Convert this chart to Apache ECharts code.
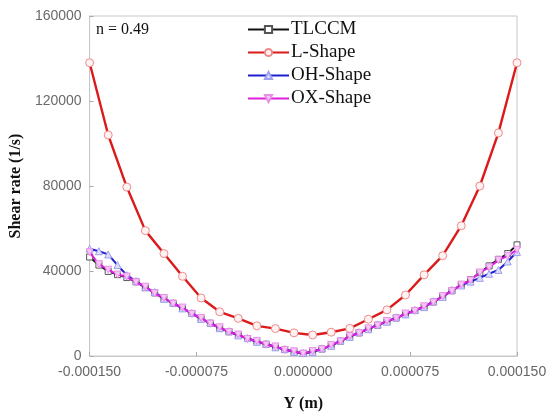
<!DOCTYPE html>
<html>
<head>
<meta charset="utf-8">
<script src="https://cdn.jsdelivr.net/npm/echarts@6/dist/echarts.min.js"></script>
<style>
  html, body { margin: 0; padding: 0; background: #fff; }
  #chart { width: 551px; height: 419px; }
</style>
</head>
<body>
<div id="chart"></div>
<script>
// Radial positions (m) for the coarse L-Shape profile
const yCoarse = [
  -150e-6, -136.957e-6, -123.913e-6, -110.870e-6, -97.826e-6, -84.783e-6,
  -71.739e-6, -58.696e-6, -45.652e-6, -32.609e-6, -19.565e-6, -6.522e-6,
  6.522e-6, 19.565e-6, 32.609e-6, 45.652e-6, 58.696e-6, 71.739e-6,
  84.783e-6, 97.826e-6, 110.870e-6, 123.913e-6, 136.957e-6, 150e-6
];

// Radial positions (m) for the fine profiles
const yFine = [
  -150e-6, -143.478e-6, -136.957e-6, -130.435e-6, -123.913e-6, -117.391e-6,
  -110.870e-6, -104.348e-6, -97.826e-6, -91.304e-6, -84.783e-6, -78.261e-6,
  -71.739e-6, -65.217e-6, -58.696e-6, -52.174e-6, -45.652e-6, -39.130e-6,
  -32.609e-6, -26.087e-6, -19.565e-6, -13.043e-6, -6.522e-6, 0,
  6.522e-6, 13.043e-6, 19.565e-6, 26.087e-6, 32.609e-6, 39.130e-6,
  45.652e-6, 52.174e-6, 58.696e-6, 65.217e-6, 71.739e-6, 78.261e-6,
  84.783e-6, 91.304e-6, 97.826e-6, 104.348e-6, 110.870e-6, 117.391e-6,
  123.913e-6, 130.435e-6, 136.957e-6, 143.478e-6, 150e-6
];

// Shear rate (1/s)
const lShape = [
  138000, 104000, 79500, 59000, 48200, 37500, 27300, 20800, 17700, 14200,
  12900, 10900, 9900, 11200, 13000, 17300, 21700, 28700, 38200, 47200,
  61300, 80000, 105000, 138000
];

const tlccm = [
  46600, 42800, 39800, 38300, 36900, 34900, 32200, 29700, 26900, 24800,
  22400, 20000, 17500, 15400, 13100, 11400, 9700, 8200, 6700, 5500,
  4200, 3000, 1900, 1200, 2000, 3300, 4900, 7000, 9100, 10900,
  12700, 14500, 16200, 17900, 19700, 21400, 23100, 25400, 27900, 30700,
  33300, 36000, 39200, 42400, 45500, 48200, 52300
];

const ohShape = [
  50500, 49300, 47800, 42800, 38000, 35300, 32300, 30100, 26900, 25100,
  22400, 20300, 17500, 15700, 13100, 11700, 9700, 8500, 6700, 5800,
  4100, 3300, 1900, 1400, 1900, 3600, 4800, 7300, 9000, 11200,
  12600, 14800, 16100, 18200, 19600, 21700, 23000, 25800, 27800, 31100,
  33200, 35000, 36800, 38700, 40500, 44500, 49000
];

const oxShape = [
  48800, 43200, 40600, 38300, 37400, 34700, 32600, 29500, 27300, 24600,
  22800, 19800, 17900, 15200, 13500, 11200, 10100, 8000, 7100, 5300,
  4500, 2800, 2200, 1100, 2300, 3100, 5200, 6800, 9400, 10700,
  13000, 14300, 16500, 17700, 20000, 21200, 23400, 25200, 28200, 30500,
  33600, 35600, 39300, 41700, 45100, 47100, 50000
];

const seriesNames = ['TLCCM', 'L-Shape', 'OH-Shape', 'OX-Shape'];
const annotation = 'n = 0.49';

const pair = (xs, vs) => xs.map((x, i) => [x, vs[i]]);

const serif = 'Liberation Serif, Times New Roman, serif';
const sans = 'Liberation Sans, Arial, sans-serif';
const axisGray = '#c8c8c8';

const chart = echarts.init(document.getElementById('chart'), null, { renderer: 'canvas' });

chart.setOption({
  animation: false,
  backgroundColor: '#ffffff',
  grid: {
    left: 89, right: 34, top: 16, bottom: 63,
    show: true, borderColor: axisGray, borderWidth: 1
  },
  graphic: [{
    type: 'text', left: 96, top: 22,
    style: { text: annotation, font: '16px ' + serif, fill: '#111' }
  }],
  legend: {
    orient: 'vertical', left: 247, top: 20, padding: 0,
    itemWidth: 41, itemHeight: 9, itemGap: 4,
    textStyle: { fontFamily: serif, fontSize: 19, color: '#111', padding: [0, 0, 0, -3] },
    data: seriesNames
  },
  xAxis: {
    type: 'value',
    min: -0.00015, max: 0.00015, interval: 0.000075,
    name: 'Y (m)', nameLocation: 'middle', nameGap: 40,
    nameTextStyle: { fontFamily: serif, fontSize: 16, fontWeight: 'bold', color: '#111' },
    axisLine: { onZero: false, lineStyle: { color: axisGray } },
    axisTick: { inside: true, length: 4, lineStyle: { color: '#aaa' } },
    splitLine: { show: false },
    axisLabel: {
      fontFamily: sans, fontSize: 14, color: '#666', margin: 9,
      showMinLabel: true, showMaxLabel: true,
      formatter: v => (Math.abs(v) < 1e-12 ? 0 : v).toFixed(6)
    }
  },
  yAxis: {
    type: 'value',
    min: 0, max: 160000, interval: 40000,
    name: 'Shear rate (1/s)', nameLocation: 'middle', nameGap: 55,
    nameTextStyle: { fontFamily: serif, fontSize: 16, fontWeight: 'bold', color: '#111' },
    axisLine: { show: true, onZero: false, lineStyle: { color: axisGray } },
    axisTick: { show: true, inside: true, length: 4, lineStyle: { color: '#aaa' } },
    splitLine: { show: false },
    axisLabel: {
      fontFamily: sans, fontSize: 14, color: '#6a6a6a', margin: 8,
      formatter: v => String(Math.round(v))
    }
  },
  series: [
    {
      name: 'TLCCM', type: 'line', data: pair(yFine, tlccm),
      symbol: 'rect', symbolSize: 6, showAllSymbol: true,
      lineStyle: { color: '#111', width: 2 },
      itemStyle: { color: '#ffffff', borderColor: '#555', borderWidth: 1 },
      z: 2
    },
    {
      name: 'L-Shape', type: 'line', data: pair(yCoarse, lShape),
      symbol: 'circle', symbolSize: 8, showAllSymbol: true,
      lineStyle: { color: '#dd1a1a', width: 2.4 },
      itemStyle: { color: '#fff2f2', borderColor: '#ee8a8a', borderWidth: 1 },
      z: 3
    },
    {
      name: 'OH-Shape', type: 'line', data: pair(yFine, ohShape),
      symbol: 'triangle', symbolSize: 7, showAllSymbol: true,
      lineStyle: { color: '#1f1fcf', width: 2 },
      itemStyle: { color: '#dcdcff', borderColor: '#a0a0f2', borderWidth: 1 },
      z: 4
    },
    {
      name: 'OX-Shape', type: 'line', data: pair(yFine, oxShape),
      symbol: 'triangle', symbolRotate: 180, symbolSize: 7, showAllSymbol: true,
      lineStyle: { color: '#dd1fdd', width: 2 },
      itemStyle: { color: '#f6c8f6', borderColor: '#e890e8', borderWidth: 1 },
      z: 5
    }
  ]
});
</script>
</body>
</html>
